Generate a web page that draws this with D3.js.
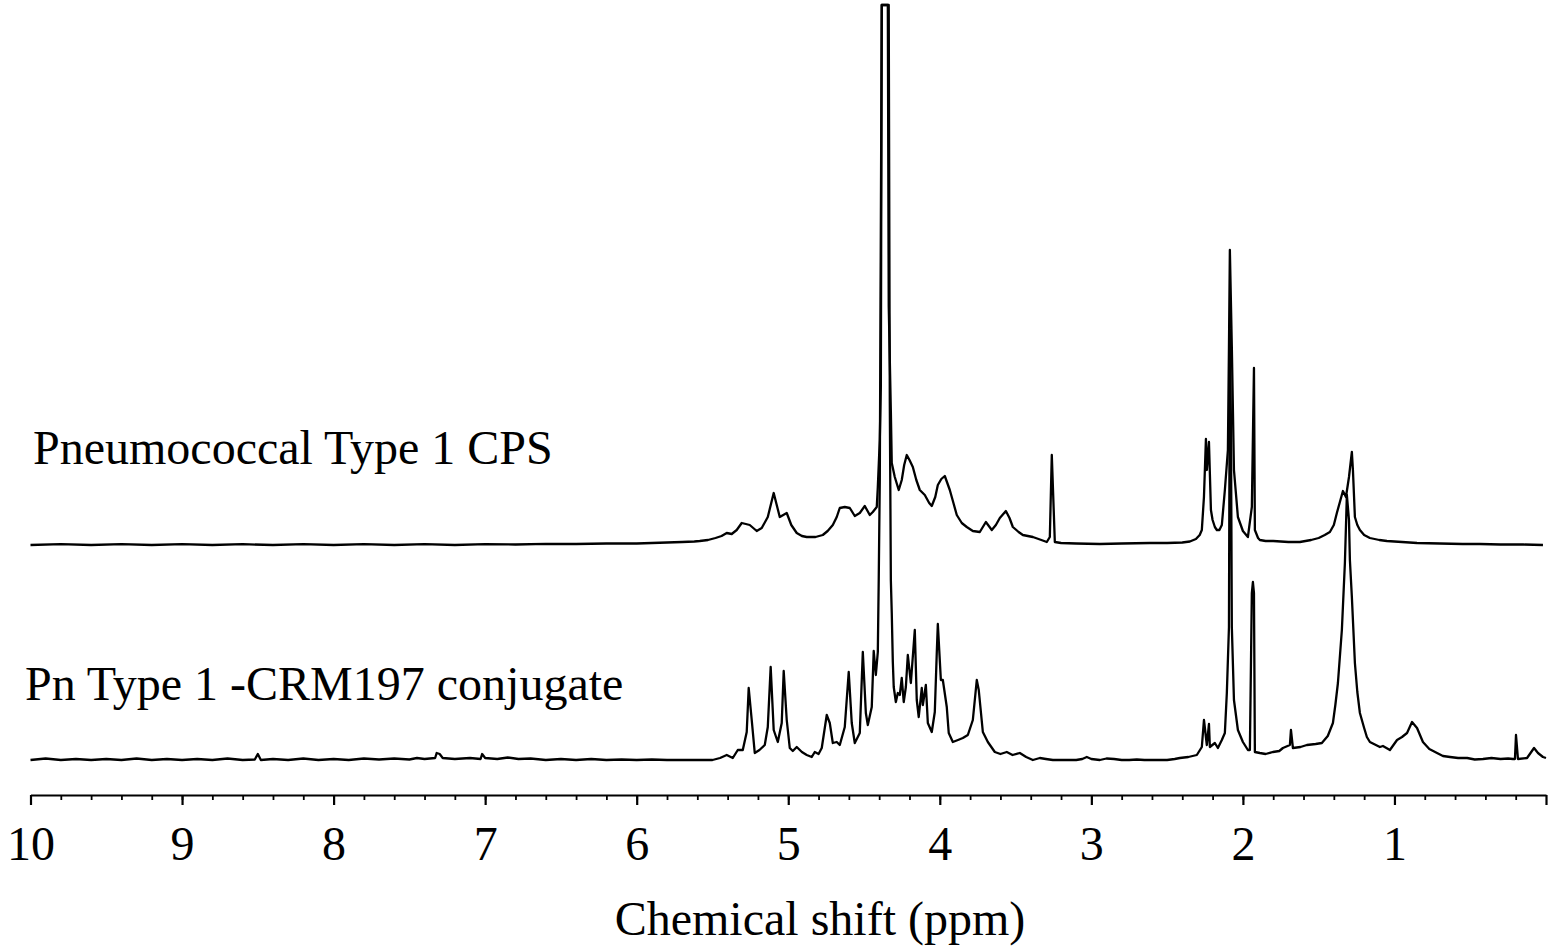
<!DOCTYPE html>
<html>
<head>
<meta charset="utf-8">
<script src="https://cdn.jsdelivr.net/npm/d3@7"></script>
<style>
  body { margin: 0; background: #fff; }
  text { font-family: "Liberation Serif", "Times New Roman", serif; fill: #000; }
</style>
</head>
<body>
<svg id="nmr" width="1551" height="952"></svg>
<script>
// [chemical shift (ppm), intensity above own baseline]
let cpsSpectrum = [
  [10.0, 0], [9.8, 0.8], [9.6, 0], [9.4, 0.8], [9.2, 0], [9.0, 0.8], [8.8, 0], [8.6, 0.8],
  [8.4, 0], [8.2, 0.8], [8.0, 0], [7.8, 0.8], [7.6, 0], [7.4, 0.8], [7.2, 0], [7.0, 0.8],
  [6.8, 0.5], [6.6, 1.2], [6.4, 1], [6.2, 1.5], [6.0, 1.5], [5.9, 2], [5.8, 2.5], [5.7, 3],
  [5.62, 3.5], [5.584, 4], [5.53, 5], [5.48, 7], [5.44, 9], [5.406, 12], [5.373, 11],
  [5.34, 15], [5.307, 22], [5.28, 21], [5.254, 20], [5.208, 14], [5.175, 17], [5.135, 28],
  [5.096, 52], [5.056, 28], [5.01, 32], [4.98, 20], [4.944, 12], [4.91, 9], [4.878, 8],
  [4.82, 8], [4.772, 10], [4.74, 14], [4.706, 20], [4.68, 28], [4.66, 37], [4.627, 38],
  [4.594, 37], [4.561, 29], [4.528, 32], [4.495, 39], [4.462, 30], [4.442, 33], [4.416, 38],
  [4.409, 58], [4.396, 105], [4.389, 159], [4.383, 900], [4.343, 900], [4.337, 239],
  [4.323, 134], [4.317, 82], [4.297, 68], [4.271, 55], [4.251, 65], [4.235, 80], [4.218, 90],
  [4.2, 85], [4.178, 78], [4.155, 65], [4.132, 55], [4.099, 50], [4.07, 42], [4.053, 39],
  [4.03, 48], [4.013, 60], [3.99, 66], [3.967, 69], [3.934, 55], [3.91, 42], [3.888, 30],
  [3.855, 22], [3.822, 18], [3.782, 14], [3.736, 13], [3.696, 23], [3.657, 15], [3.63, 20],
  [3.604, 27], [3.564, 34], [3.54, 27], [3.518, 18], [3.48, 13], [3.452, 10], [3.386, 8],
  [3.33, 5], [3.294, 3], [3.274, 8], [3.261, 90], [3.241, 3], [3.2, 2], [3.1, 1.5],
  [2.944, 1], [2.8, 1.5], [2.614, 2], [2.5, 2], [2.4, 2.5], [2.35, 3.5], [2.31, 6],
  [2.285, 10], [2.271, 15], [2.257, 48], [2.244, 106], [2.238, 75], [2.224, 103], [2.211, 35],
  [2.2, 25], [2.185, 18], [2.172, 15], [2.155, 15], [2.139, 20], [2.119, 55], [2.099, 95],
  [2.092, 198], [2.086, 295], [2.073, 198], [2.059, 75], [2.033, 28], [2.0, 14], [1.967, 8],
  [1.941, 38], [1.927, 177], [1.921, 15], [1.9, 7], [1.888, 5], [1.85, 4], [1.8, 4],
  [1.7, 3], [1.624, 3], [1.55, 5], [1.5, 7], [1.46, 10], [1.426, 13], [1.4, 20], [1.38, 32],
  [1.36, 43], [1.34, 54], [1.32, 48], [1.3, 68], [1.281, 93], [1.274, 75], [1.261, 28],
  [1.245, 20], [1.228, 15], [1.2, 10], [1.162, 7], [1.1, 5], [1.05, 4], [0.95, 3],
  [0.851, 2], [0.7, 1.5], [0.55, 1], [0.436, 1], [0.3, 0.5], [0.15, 0.5], [0.02, 0]
];

let conjugateSpectrum = [
  [10.0, 0], [9.9, 1.5], [9.8, 0], [9.7, 1], [9.6, -0.5], [9.5, 1], [9.4, 0], [9.3, 1.5],
  [9.2, 0], [9.1, 1], [9.0, -0.5], [8.9, 1], [8.8, 0], [8.7, 1.5], [8.6, 0], [8.52, 0.5],
  [8.5, 6], [8.48, 0], [8.4, 1], [8.3, 0], [8.2, 1.5], [8.1, 0], [8.0, 1], [7.9, 0],
  [7.8, 1.5], [7.7, 0.5], [7.6, 1.5], [7.5, 0.5], [7.45, 2], [7.4, 1], [7.33, 2], [7.32, 7],
  [7.3, 6], [7.28, 2], [7.2, 1], [7.1, 2], [7.03, 1], [7.02, 6], [7.0, 2], [6.92, 1],
  [6.85, 2.5], [6.78, 1], [6.7, 1.5], [6.6, 0], [6.5, 1], [6.4, 0], [6.3, 1], [6.2, 0],
  [6.1, 0.5], [6.0, -0.5], [5.9, 0.5], [5.8, -1], [5.7, 0], [5.584, -2], [5.5, 0],
  [5.45, 2], [5.406, 5], [5.366, 2], [5.333, 10], [5.3, 10], [5.274, 28], [5.261, 72],
  [5.241, 40], [5.221, 7], [5.19, 10], [5.155, 15], [5.135, 33], [5.116, 93], [5.096, 30],
  [5.069, 18], [5.043, 37], [5.03, 89], [5.01, 40], [4.99, 12], [4.97, 9], [4.944, 13],
  [4.91, 8], [4.878, 5], [4.845, 3], [4.825, 8], [4.8, 6], [4.779, 12], [4.746, 45],
  [4.726, 37], [4.706, 17], [4.68, 18], [4.66, 15], [4.627, 33], [4.601, 88], [4.581, 37],
  [4.561, 17], [4.528, 27], [4.508, 108], [4.488, 47], [4.475, 35], [4.449, 53],
  [4.436, 109], [4.422, 85], [4.409, 108], [4.403, 180], [4.396, 280], [4.383, 900],
  [4.337, 900], [4.33, 360], [4.323, 180], [4.317, 147], [4.31, 98], [4.304, 73], [4.29, 58],
  [4.277, 67], [4.264, 65], [4.251, 82], [4.238, 58], [4.224, 73], [4.211, 105], [4.191, 77],
  [4.165, 130], [4.152, 60], [4.139, 43], [4.119, 72], [4.112, 55], [4.092, 75], [4.079, 37],
  [4.053, 28], [4.033, 48], [4.02, 107], [4.013, 136], [3.993, 80], [3.98, 80], [3.954, 53],
  [3.941, 27], [3.914, 18], [3.88, 20], [3.848, 22], [3.815, 25], [3.782, 40], [3.756, 80],
  [3.743, 70], [3.716, 28], [3.683, 18], [3.637, 8], [3.6, 6], [3.558, 8], [3.52, 5],
  [3.472, 7], [3.43, 3], [3.386, 0], [3.34, 2], [3.3, 1], [3.254, 0], [3.2, -1],
  [3.162, -2], [3.1, 0], [3.06, 1], [3.03, 3], [3.0, 1], [2.944, 0], [2.9, 1.5], [2.85, 1],
  [2.8, -0.5], [2.75, -1], [2.7, 0.5], [2.65, -1], [2.614, -2], [2.56, 0], [2.5, 0],
  [2.45, 1], [2.416, 2], [2.36, 3], [2.304, 5], [2.271, 13], [2.257, 40], [2.238, 15],
  [2.224, 36], [2.218, 13], [2.185, 17], [2.165, 12], [2.139, 20], [2.119, 27], [2.106, 67],
  [2.092, 133], [2.086, 430], [2.079, 340], [2.073, 133], [2.059, 60], [2.033, 30],
  [2.0, 18], [1.967, 10], [1.954, 10], [1.941, 167], [1.934, 178], [1.927, 167], [1.921, 8],
  [1.888, 7], [1.85, 6], [1.802, 8], [1.76, 9], [1.736, 12], [1.69, 15], [1.683, 30],
  [1.67, 12], [1.62, 13], [1.578, 15], [1.52, 16], [1.479, 17], [1.44, 24], [1.406, 37],
  [1.39, 55], [1.373, 77], [1.347, 130], [1.327, 197], [1.314, 265], [1.3, 240],
  [1.294, 200], [1.281, 163], [1.261, 97], [1.245, 68], [1.228, 47], [1.2, 32], [1.182, 23],
  [1.162, 18], [1.096, 13], [1.076, 14], [1.03, 10], [0.983, 20], [0.95, 23], [0.917, 27],
  [0.884, 38], [0.851, 32], [0.812, 18], [0.77, 11], [0.719, 7], [0.68, 4], [0.633, 3],
  [0.58, 2], [0.52, 2], [0.47, 0.5], [0.416, 1], [0.36, 2], [0.3, 1], [0.25, 1.5],
  [0.218, 1], [0.205, 1], [0.198, 25], [0.185, 1], [0.125, 2], [0.079, 12], [0.053, 7],
  [0.02, 3], [0.0, 2]
];

let majorTicks = [10, 9, 8, 7, 6, 5, 4, 3, 2, 1, 0];
let tickLabels = ['10', '9', '8', '7', '6', '5', '4', '3', '2', '1', ''];
let minorTicks = d3.range(0, 50).map((i) => +(10 - i * 0.2).toFixed(1));
let traceNames = ['Pneumococcal Type 1 CPS', 'Pn Type 1 -CRM197 conjugate'];
let axisTitle = 'Chemical shift (ppm)';

let axisY = 795;
let cpsOffset = 215;
let fontFamily = '"Liberation Serif", "Times New Roman", serif';

let svg = d3.select('#nmr');

let x = d3.scaleLinear().domain([10, 0]).range([30.5, 1546]);
let y = d3.scaleLinear().domain([0, 755]).range([760, 5]).clamp(true);

let line = (offset) => d3.line()
  .x((d) => x(d[0]))
  .y((d) => y(d[1] + offset));

svg.append('path')
  .datum(cpsSpectrum)
  .attr('fill', 'none')
  .attr('stroke', '#000')
  .attr('stroke-width', 2.3)
  .attr('stroke-linejoin', 'round')
  .attr('d', line(cpsOffset));

svg.append('path')
  .datum(conjugateSpectrum)
  .attr('fill', 'none')
  .attr('stroke', '#000')
  .attr('stroke-width', 2.3)
  .attr('stroke-linejoin', 'round')
  .attr('d', line(0));

// minor ticks
let minorAxis = svg.append('g')
  .attr('transform', `translate(0,${axisY})`)
  .call(d3.axisBottom(x).tickValues(minorTicks).tickSize(5).tickSizeOuter(0).tickFormat(''));
minorAxis.select('.domain').remove();
minorAxis.selectAll('line').attr('stroke-width', 1.8);

// major ticks + labels
let majorAxis = svg.append('g')
  .attr('transform', `translate(0,${axisY})`)
  .call(d3.axisBottom(x).tickValues(majorTicks).tickSize(10).tickSizeOuter(0)
    .tickFormat((d, i) => tickLabels[i]));
majorAxis.select('.domain').attr('stroke-width', 2.2);
majorAxis.selectAll('line').attr('stroke-width', 2.2);
majorAxis.selectAll('text')
  .attr('y', 0)
  .attr('dy', null)
  .attr('transform', 'translate(0,65)')
  .style('font-size', '48px')
  .style('font-family', fontFamily);

svg.append('text')
  .attr('x', 820)
  .attr('y', 935)
  .attr('text-anchor', 'middle')
  .style('font-size', '48px')
  .style('font-family', fontFamily)
  .text(axisTitle);

svg.selectAll('.trace-label')
  .data(traceNames)
  .enter()
  .append('text')
  .attr('class', 'trace-label')
  .attr('x', (d, i) => [33, 25][i])
  .attr('y', (d, i) => [464, 700][i])
  .style('font-size', '48px')
  .style('font-family', fontFamily)
  .text((d) => d);
</script>
</body>
</html>
